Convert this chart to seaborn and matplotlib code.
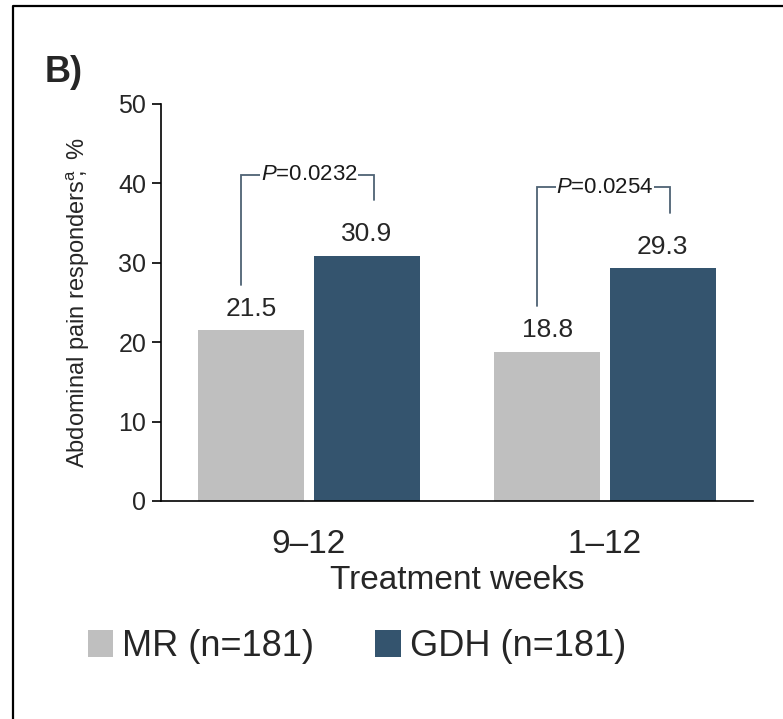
import matplotlib
matplotlib.use("Agg")
import matplotlib.pyplot as plt
import seaborn as sns
import pandas as pd
from matplotlib.lines import Line2D

# ---- data ----
weeks = ["9–12", "1–12"]
groups = ["MR (n=181)", "GDH (n=181)"]
mr_values = [21.5, 18.8]
gdh_values = [30.9, 29.3]
p_values = ["0.0232", "0.0254"]
colors = ["#BFBFBF", "#34546E"]

df = pd.DataFrame({
    "weeks": weeks * 2,
    "group": [groups[0]] * 2 + [groups[1]] * 2,
    "pct": mr_values + gdh_values,
})

sns.set_theme(style="white")
plt.rcParams["font.family"] = ["Liberation Sans", "DejaVu Sans"]
plt.rcParams["mathtext.fontset"] = "custom"
plt.rcParams["mathtext.rm"] = "Liberation Sans"
plt.rcParams["mathtext.it"] = "Liberation Sans:italic"

fig = plt.figure(figsize=(7.83, 7.19), dpi=100)
ax = fig.add_axes([0.2056, 0.3032, 0.7561, 0.5522])

sns.barplot(data=df, x="weeks", y="pct", hue="group", hue_order=groups,
            order=weeks, palette=colors, saturation=1, width=0.78, gap=0.085,
            linewidth=0, ax=ax, errorbar=None)

ax.set_xlim(-0.5, 1.5)
ax.set_ylim(0, 50)
ax.set_yticks([0, 10, 20, 30, 40, 50])
sns.despine(ax=ax)
for s in ["left", "bottom"]:
    ax.spines[s].set_color("black")
    ax.spines[s].set_linewidth(1.2)
ax.tick_params(axis="y", length=6.5, width=1.2, color="black", labelsize=18,
               left=True, direction="out", pad=4)
ax.tick_params(axis="x", length=0, labelsize=24, pad=20)
ax.set_xlabel("Treatment weeks", fontsize=24, labelpad=4)
ax.set_ylabel(r"$\mathrm{Abdominal\ pain\ responders^{a}\!\!,\ \%}$",
              fontsize=17, labelpad=19)

# value labels
for cont in ax.containers:
    ax.bar_label(cont, fmt="%.1f", padding=7, fontsize=19)

# significance brackets
bcol = "#4E6274"
for i, (m, g, p) in enumerate(zip(mr_values, gdh_values, p_values)):
    xl, xr = i - 0.23, i + 0.22
    top = g + 10.2
    ax.plot([xl, xl, xr, xr], [m + 5.7, top, top, g + 7.0], color=bcol,
            lw=1.3, solid_joinstyle="miter", clip_on=False)
    ax.text(i, top, r"$\mathit{P}$=" + p, ha="center", va="center",
            fontsize=16, color="#1a1a1a",
            bbox=dict(facecolor="white", edgecolor="none", pad=0.5))

# legend
handles, labels = ax.get_legend_handles_labels()
ax.legend(handles, labels, loc="center left", bbox_to_anchor=(0.112, 0.101),
          bbox_transform=fig.transFigure, ncol=2, frameon=False, fontsize=26,
          handlelength=0.7, handleheight=0.75, handletextpad=0.25,
          columnspacing=1.7, borderpad=0, borderaxespad=0)

# panel label
fig.text(45 / 783, 1 - 82 / 719, "B)", fontsize=26, fontweight="bold",
         va="baseline", ha="left")

# image frame (top and left)
xf = 13 / 783
yf = 1 - 6 / 719
fig.add_artist(Line2D([xf, xf, 1.0], [0.0, yf, yf], color="black", lw=1.6,
                      transform=fig.transFigure))

fig.savefig("out.png", dpi=100)
